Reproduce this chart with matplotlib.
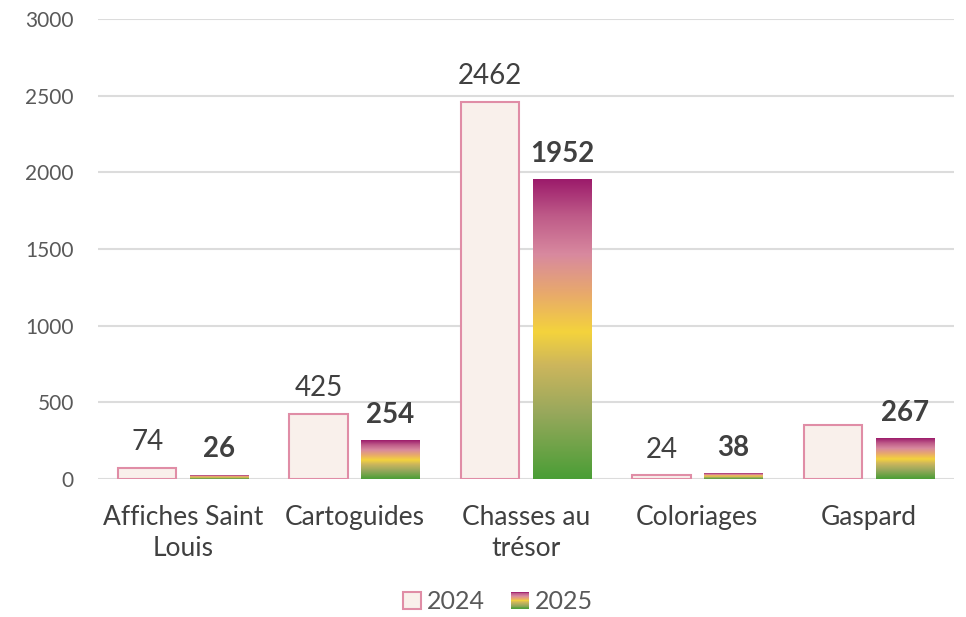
import numpy as np
import matplotlib
matplotlib.use("Agg")
import matplotlib.pyplot as plt
from matplotlib.colors import LinearSegmentedColormap
from matplotlib.patches import Rectangle
from matplotlib.legend_handler import HandlerBase

plt.rcParams['font.family'] = ['Lato', 'DejaVu Sans']

# --- data ---
categories = ["Affiches Saint\nLouis", "Cartoguides", "Chasses au\ntrésor", "Coloriages", "Gaspard"]
v2024 = [74, 425, 2462, 24, 350]
v2025 = [26, 254, 1952, 38, 267]
labels2024 = ["74", "425", "2462", "24", ""]
labels2025 = ["26", "254", "1952", "38", "267"]
series = ["2024", "2025"]

# --- styles ---
FILL_24 = "#F9F0EB"
EDGE_24 = "#E08DA6"
TEXT = "#404040"
TICK = "#595959"
GRID = "#DCDCDC"

grad = LinearSegmentedColormap.from_list("grad", [
    (0.0, "#4A9E36"),
    (0.22, "#98A85C"),
    (0.38, "#CDB65C"),
    (0.49, "#F4D33C"),
    (0.62, "#E8A96C"),
    (0.75, "#D8899F"),
    (0.88, "#BE5A88"),
    (1.0, "#9C1B6B"),
])


class GradientHandler(HandlerBase):
    def create_artists(self, legend, orig_handle, xdescent, ydescent,
                       width, height, fontsize, trans):
        side = height * 1.0
        x0 = -xdescent + (width - side) / 2
        y0 = -ydescent + (height - side) / 2
        n = 20
        arts = []
        for i in range(n):
            r = Rectangle((x0, y0 + side * i / n), side, side / n + 0.05,
                          facecolor=grad((i + 0.5) / n), edgecolor="none",
                          transform=trans)
            arts.append(r)
        return arts


class SquareHandler(HandlerBase):
    def create_artists(self, legend, orig_handle, xdescent, ydescent,
                       width, height, fontsize, trans):
        side = height * 1.0
        x0 = -xdescent + (width - side) / 2
        y0 = -ydescent + (height - side) / 2
        r = Rectangle((x0, y0), side, side, facecolor=FILL_24,
                      edgecolor=EDGE_24, linewidth=1.5, transform=trans)
        return [r]


fig = plt.figure(figsize=(9.66, 6.17), dpi=100)
ax = fig.add_axes([0.101, 0.2237, 0.887, 0.7453])

x = np.arange(len(categories))
w = 0.34
off = 0.21

b1 = ax.bar(x - off, v2024, w, color=FILL_24, edgecolor=EDGE_24, linewidth=1.5, zorder=3)
b2 = ax.bar(x + off, v2025, w, color="none", edgecolor="none", zorder=3)

gradimg = np.linspace(0, 1, 256).reshape(-1, 1)
for bar in b2:
    bx, bw, bh = bar.get_x(), bar.get_width(), bar.get_height()
    ax.imshow(gradimg, cmap=grad, origin="lower", aspect="auto",
              extent=[bx, bx + bw, 0, bh], zorder=3, interpolation="bilinear")

for bar, lab in zip(b1, labels2024):
    if lab:
        ax.annotate(lab, (bar.get_x() + bar.get_width() / 2, bar.get_height()),
                    xytext=(0, 9), textcoords="offset points", ha="center", va="bottom",
                    fontsize=20, color=TEXT)
for bar, lab in zip(b2, labels2025):
    ax.annotate(lab, (bar.get_x() + bar.get_width() / 2, bar.get_height()),
                xytext=(0, 9), textcoords="offset points", ha="center", va="bottom",
                fontsize=20, color=TEXT, fontweight="bold")

ax.set_xlim(-0.5, len(categories) - 0.5)
ax.set_ylim(0, 3000)
ax.set_yticks(np.arange(0, 3001, 500))
ax.set_xticks(x)
ax.set_xticklabels(categories, fontsize=19, color=TEXT, linespacing=1.3)
ax.tick_params(axis="y", length=0, pad=17, labelsize=15, labelcolor=TICK)
ax.tick_params(axis="x", length=0, pad=19)
ax.grid(axis="y", color=GRID, linewidth=1.5, zorder=0)
ax.set_axisbelow(True)
for s in ax.spines.values():
    s.set_visible(False)

h1 = Rectangle((0, 0), 1, 1)
h2 = Rectangle((0, 0), 1, 1)
fig.legend([h1, h2], series, loc="lower center", bbox_to_anchor=(0.515, -0.01),
           borderaxespad=0.0, ncol=2, frameon=False, fontsize=18, handlelength=0.8,
           handletextpad=0.2, columnspacing=1.0, labelcolor=TICK,
           handler_map={h1: SquareHandler(), h2: GradientHandler()})

fig.savefig("out.png", dpi=100)
